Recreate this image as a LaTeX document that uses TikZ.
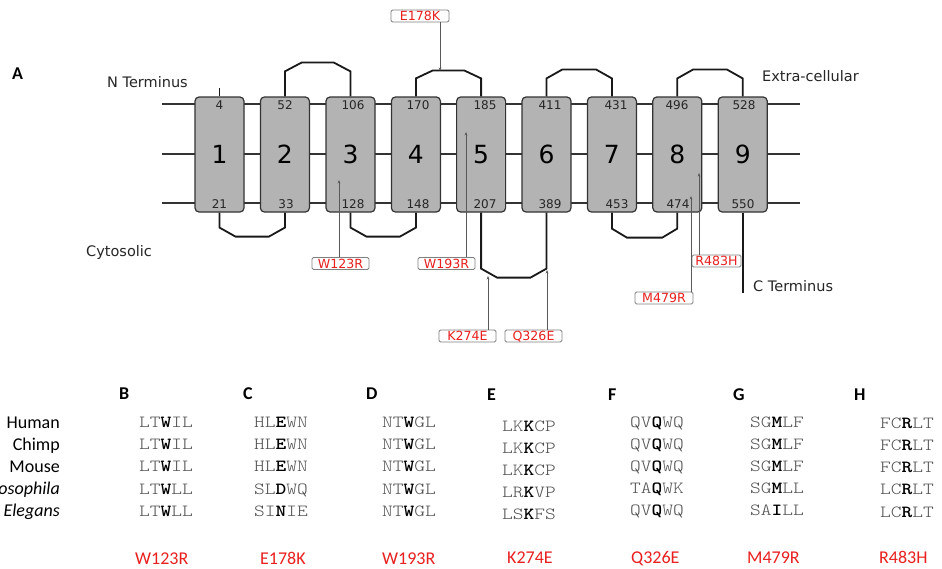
\documentclass[tikz,border=0pt]{standalone}
\usepackage{fontspec}
\usetikzlibrary{arrows.meta,calc}
\setmainfont{DejaVu Sans}
\newfontfamily\carl{Carlito}
\newfontfamily\seqfont{lmmonolt10-regular.otf}[BoldFont=lmmonolt10-bold.otf,FakeStretch=1.2]
\definecolor{seqgray}{HTML}{505050}
\definecolor{mutred}{HTML}{E8201F}
\definecolor{boxgray}{HTML}{B3B3B3}
\definecolor{linegray}{HTML}{333333}
\newcommand\sq[3]{\textcolor{seqgray}{#1}\textbf{#2}\textcolor{seqgray}{#3}}
\begin{document}
\begin{tikzpicture}[x=1pt,y=-1pt,
  mem/.style={draw=linegray,line width=1.1pt},
  helix/.style={draw=linegray,line width=1.2pt,fill=boxgray,rounded corners=4pt,minimum width=49pt,minimum height=115pt,inner sep=0pt,font=\fontsize{25}{28}\selectfont},
  resnum/.style={font=\fontsize{12}{14}\selectfont,anchor=base,inner sep=0pt,text=black!85},
  loopl/.style={draw=black!90,line width=1.8pt},
  mut/.style={draw=black!50,line width=0.8pt,fill=white,rounded corners=1.5pt,inner sep=0pt,minimum height=12pt,text height=9pt,text depth=0pt,text=mutred,font=\fontsize{12.6}{14}\selectfont},
  leader/.style={draw=black!65,line width=0.8pt,-{Stealth[length=3.5pt,width=2.8pt]}},
  lbl/.style={font=\fontsize{14.5}{17}\selectfont,inner sep=0pt,anchor=base west,text=black!85},
  species/.style={font=\carl\fontsize{18}{21}\selectfont,inner sep=0pt,anchor=base east},
  panel/.style={font=\carl\bfseries\fontsize{18}{21}\selectfont,inner sep=0pt,anchor=base west},
  seq/.style={font=\seqfont\fontsize{17}{20}\selectfont,inner sep=0pt,anchor=base west},
  mutname/.style={font=\carl\fontsize{18}{21}\selectfont,inner sep=0pt,anchor=base west,text=mutred}]
\useasboundingbox[fill=white] (0,0) rectangle (942,568);

% membrane lines
\coordinate (m1a) at (162,104); \coordinate (m1b) at (800,104);
\coordinate (m2a) at (162,154); \coordinate (m2b) at (800,154);
\coordinate (m3a) at (162,203); \coordinate (m3b) at (800,203);
\draw[mem] (m1a) -- (m1b);
\draw[mem] (m2a) -- (m2b);
\draw[mem] (m3a) -- (m3b);

% helices
\node[helix] (h1) at (219.5,154.5) {1};
\node[helix] (h2) at (284.9,154.5) {2};
\node[helix] (h3) at (350.5,154.5) {3};
\node[helix] (h4) at (415.9,154.5) {4};
\node[helix] (h5) at (481.1,154.5) {5};
\node[helix] (h6) at (546.5,154.5) {6};
\node[helix] (h7) at (611.9,154.5) {7};
\node[helix] (h8) at (677.3,154.5) {8};
\node[helix] (h9) at (742.7,154.5) {9};

% extracellular loops
\draw[loopl] (h2.north) -- ++(0,-25) -- ++(17,-9) -- ($(h3.north)+(-17,-34)$) -- ($(h3.north)+(0,-25)$) -- (h3.north);
\draw[loopl] (h4.north) -- ++(0,-18) -- ++(17,-8) -- ($(h5.north)+(-17,-26)$) -- ($(h5.north)+(0,-18)$) -- (h5.north);
\draw[loopl] (h6.north) -- ++(0,-18) -- ++(16,-9) -- ($(h7.north)+(-16,-27)$) -- ($(h7.north)+(0,-18)$) -- (h7.north);
\draw[loopl] (h8.north) -- ++(0,-18) -- ++(16,-9) -- ($(h9.north)+(-16,-27)$) -- ($(h9.north)+(0,-18)$) -- (h9.north);
% cytosolic loops
\draw[loopl] (h1.south) -- ++(0,15) -- ++(16,9) -- ($(h2.south)+(-16,24)$) -- ($(h2.south)+(0,15)$) -- (h2.south);
\draw[loopl] (h3.south) -- ++(0,15) -- ++(16,9) -- ($(h4.south)+(-16,24)$) -- ($(h4.south)+(0,15)$) -- (h4.south);
\draw[loopl] (h5.south) -- ++(0,56) -- ++(16,9) -- ($(h6.south)+(-16,65)$) -- ($(h6.south)+(0,56)$) -- (h6.south);
\draw[loopl] (h7.south) -- ++(0,16) -- ++(15,9) -- ($(h8.south)+(-15,25)$) -- ($(h8.south)+(0,16)$) -- (h8.south);
% termini
\coordinate (nt) at (219.5,88);
\coordinate (ct) at (742.7,293);
\draw[loopl] (h1.north) -- (nt);
\draw[loopl] (h9.south) -- (ct);

% residue numbers
\node[resnum] (t4) at (219.5,109) {4};
\node[resnum] (t52) at (285,109) {52};
\node[resnum] (t106) at (353,109) {106};
\node[resnum] (t170) at (418,109) {170};
\node[resnum] (t185) at (485,109) {185};
\node[resnum] (t411) at (550,109) {411};
\node[resnum] (t431) at (616,109) {431};
\node[resnum] (t496) at (677,109) {496};
\node[resnum] (t528) at (744,109) {528};
\node[resnum] (b21) at (219.5,208.3) {21};
\node[resnum] (b33) at (286,208.3) {33};
\node[resnum] (b128) at (353,208.3) {128};
\node[resnum] (b148) at (418,208.3) {148};
\node[resnum] (b207) at (485,208.3) {207};
\node[resnum] (b389) at (550,208.3) {389};
\node[resnum] (b453) at (617,208.3) {453};
\node[resnum] (b474) at (678,208.3) {474};
\node[resnum] (b550) at (743,208.3) {550};

% mutation labels and leaders
\node[mut,minimum width=58pt] (mE178K) at (420,16) {E178K};
\coordinate (tE178K) at (440,71);
\draw[leader] (mE178K.south -| tE178K) -- (tE178K);
\node[mut,minimum width=57pt] (mW123R) at (340.5,263.5) {W123R};
\coordinate (tW123R) at (339,180);
\draw[leader] (mW123R.north -| tW123R) -- (tW123R);
\node[mut,minimum width=57pt] (mW193R) at (446.5,263.5) {W193R};
\coordinate (tW193R) at (466,132);
\draw[leader] (mW193R.north -| tW193R) -- (tW193R);
\node[mut,minimum width=57pt] (mK274E) at (467.5,336) {K274E};
\coordinate (tK274E) at (488,276);
\draw[leader] (mK274E.north -| tK274E) -- (tK274E);
\node[mut,minimum width=57pt] (mQ326E) at (533.5,336) {Q326E};
\coordinate (tQ326E) at (547,270);
\draw[leader] (mQ326E.north -| tQ326E) -- (tQ326E);
\node[mut,minimum width=49pt] (mR483H) at (716.5,261) {R483H};
\coordinate (tR483H) at (699,173);
\draw[leader] (mR483H.north -| tR483H) -- (tR483H);
\node[mut,minimum width=58pt] (mM479R) at (664,298) {M479R};
\coordinate (tM479R) at (691,196);
\draw[leader] (mM479R.north -| tM479R) -- (tM479R);

% panel A labels
\node[panel] (pA) at (12,79) {A};
\node[lbl] (nterm) at (107,87.5) {N Terminus};
\node[lbl] (extra) at (762,81) {Extra-cellular};
\node[lbl] (cyto) at (86,256.5) {Cytosolic};
\node[lbl] (cterm) at (753,291.5) {C Terminus};

% alignment panels
\node[panel] (pB) at (119,399.3) {B};
\node[panel] (pC) at (243,399.3) {C};
\node[panel] (pD) at (366,399.3) {D};
\node[panel] (pE) at (487,400.7) {E};
\node[panel] (pF) at (608,400) {F};
\node[panel] (pG) at (733,400.7) {G};
\node[panel] (pH) at (854,400.7) {H};

\node[species] (sp1) at (60,428) {Human};
\node[species] (sp2) at (60,450.2) {Chimp};
\node[species] (sp3) at (60,472.4) {Mouse};
\node[species] (sp4) at (60,494.6) {\itshape Drosophila};
\node[species] (sp5) at (60,516.8) {\itshape Elegans};

% B
\node[seq] (sB1) at (139,427.5) {\sq{LT}{W}{IL}};
\node[seq] (sB2) at (139,449.7) {\sq{LT}{W}{IL}};
\node[seq] (sB3) at (139,471.9) {\sq{LT}{W}{IL}};
\node[seq] (sB4) at (139,494.1) {\sq{LT}{W}{LL}};
\node[seq] (sB5) at (139,516.3) {\sq{LT}{W}{LL}};
% C
\node[seq] (sC1) at (254,427.5) {\sq{HL}{E}{WN}};
\node[seq] (sC2) at (254,449.7) {\sq{HL}{E}{WN}};
\node[seq] (sC3) at (254,471.9) {\sq{HL}{E}{WN}};
\node[seq] (sC4) at (254,494.1) {\sq{SL}{D}{WQ}};
\node[seq] (sC5) at (254,516.3) {\sq{SI}{N}{IE}};
% D
\node[seq] (sD1) at (382,427.5) {\sq{NT}{W}{GL}};
\node[seq] (sD2) at (382,449.7) {\sq{NT}{W}{GL}};
\node[seq] (sD3) at (382,471.9) {\sq{NT}{W}{GL}};
\node[seq] (sD4) at (382,494.1) {\sq{NT}{W}{GL}};
\node[seq] (sD5) at (382,516.3) {\sq{NT}{W}{GL}};
% E
\node[seq] (sE1) at (502,431) {\sq{LK}{K}{CP}};
\node[seq] (sE2) at (502,453.2) {\sq{LK}{K}{CP}};
\node[seq] (sE3) at (502,475.4) {\sq{LK}{K}{CP}};
\node[seq] (sE4) at (502,497.6) {\sq{LR}{K}{VP}};
\node[seq] (sE5) at (502,519.8) {\sq{LS}{K}{FS}};
% F
\node[seq] (sF1) at (630,427) {\sq{QV}{Q}{WQ}};
\node[seq] (sF2) at (630,449.2) {\sq{QV}{Q}{WQ}};
\node[seq] (sF3) at (630,471.4) {\sq{QV}{Q}{WQ}};
\node[seq] (sF4) at (630,493.6) {\sq{TA}{Q}{WK}};
\node[seq] (sF5) at (630,515.8) {\sq{QV}{Q}{WQ}};
% G
\node[seq] (sG1) at (750,427) {\sq{SG}{M}{LF}};
\node[seq] (sG2) at (750,449.2) {\sq{SG}{M}{LF}};
\node[seq] (sG3) at (750,471.4) {\sq{SG}{M}{LF}};
\node[seq] (sG4) at (750,493.6) {\sq{SG}{M}{LL}};
\node[seq] (sG5) at (750,515.8) {\sq{SA}{I}{LL}};
% H
\node[seq] (sH1) at (880,428.3) {\sq{FC}{R}{LT}};
\node[seq] (sH2) at (880,450.5) {\sq{FC}{R}{LT}};
\node[seq] (sH3) at (880,472.7) {\sq{FC}{R}{LT}};
\node[seq] (sH4) at (880,494.9) {\sq{LC}{R}{LT}};
\node[seq] (sH5) at (880,517.1) {\sq{LC}{R}{LT}};

% mutation names
\node[mutname] (nW123R) at (135,564) {W123R};
\node[mutname] (nE178K) at (260,564) {E178K};
\node[mutname] (nW193R) at (382,564) {W193R};
\node[mutname] (nK274E) at (507,563) {K274E};
\node[mutname] (nQ326E) at (631,563) {Q326E};
\node[mutname] (nM479R) at (747,563) {M479R};
\node[mutname] (nR483H) at (879,563) {R483H};
\end{tikzpicture}
\end{document}
